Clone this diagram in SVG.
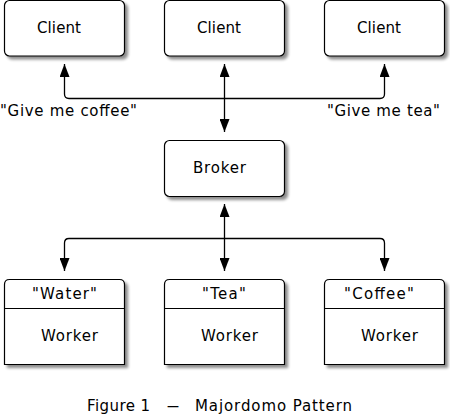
<svg xmlns="http://www.w3.org/2000/svg" width="450" height="414" viewBox="0 0 450 414">
<style>
.box{fill:#fff;stroke:#000;stroke-width:1.2}
.div{stroke:#000;stroke-width:1.2;fill:none}
.t{font-family:"DejaVu Sans","Liberation Sans",sans-serif;font-size:15px;fill:#000}
.c{fill:none;stroke:#000;stroke-width:1.3;marker-start:url(#ah);marker-end:url(#ah)}
</style>
<defs>
<filter id="sh" x="-10%" y="-10%" width="130%" height="140%">
<feGaussianBlur in="SourceAlpha" stdDeviation="1.5"/>
<feOffset dx="3" dy="3" result="b"/>
<feComponentTransfer><feFuncA type="linear" slope="0.45"/></feComponentTransfer>
<feMerge><feMergeNode/><feMergeNode in="SourceGraphic"/></feMerge>
</filter>
<marker id="ah" viewBox="0 0 13 10" refX="13" refY="5" markerWidth="13" markerHeight="10" markerUnits="userSpaceOnUse" orient="auto-start-reverse">
<path d="M0,0 L13,5 L0,10 z" fill="#000"/>
</marker>
</defs>
<rect width="450" height="414" fill="#fff"/>
<g id="client1"><rect class="box" filter="url(#sh)" x="4.5" y="0.5" width="120" height="55.5" rx="5"/><text class="t" x="37" y="33" textLength="44" lengthAdjust="spacing">Client</text></g>
<g id="client2"><rect class="box" filter="url(#sh)" x="164.5" y="0.5" width="120" height="55.5" rx="5"/><text class="t" x="197" y="33" textLength="44" lengthAdjust="spacing">Client</text></g>
<g id="client3"><rect class="box" filter="url(#sh)" x="324.5" y="0.5" width="120" height="55.5" rx="5"/><text class="t" x="357" y="33" textLength="44" lengthAdjust="spacing">Client</text></g>
<g id="broker"><rect class="box" filter="url(#sh)" x="164.5" y="140.5" width="120" height="56" rx="5"/><text class="t" x="193" y="173" textLength="53" lengthAdjust="spacing">Broker</text></g>
<g id="worker1"><path class="box" filter="url(#sh)" d="M4.5,364.5 V284.5 Q4.5,279.5 9.5,279.5 H119.5 Q124.5,279.5 124.5,284.5 V364.5 Z"/><path class="div" d="M4.5,308.5 H124.5"/><text class="t" x="32" y="299" textLength="65" lengthAdjust="spacing">"Water"</text><text class="t" x="41" y="341" textLength="57" lengthAdjust="spacing">Worker</text></g>
<g id="worker2"><path class="box" filter="url(#sh)" d="M164.5,364.5 V284.5 Q164.5,279.5 169.5,279.5 H279.5 Q284.5,279.5 284.5,284.5 V364.5 Z"/><path class="div" d="M164.5,308.5 H284.5"/><text class="t" x="202" y="299" textLength="44" lengthAdjust="spacing">"Tea"</text><text class="t" x="201" y="341" textLength="57" lengthAdjust="spacing">Worker</text></g>
<g id="worker3"><path class="box" filter="url(#sh)" d="M324.5,364.5 V284.5 Q324.5,279.5 329.5,279.5 H439.5 Q444.5,279.5 444.5,284.5 V364.5 Z"/><path class="div" d="M324.5,308.5 H444.5"/><text class="t" x="344" y="299" textLength="70" lengthAdjust="spacing">"Coffee"</text><text class="t" x="361" y="341" textLength="57" lengthAdjust="spacing">Worker</text></g>
<g id="connectors">
<path class="c" d="M64.5,64 V94 Q64.5,98.5 69,98.5 H380 Q384.5,98.5 384.5,94 V64"/>
<path class="c" d="M224.5,64 V132"/>
<path class="c" d="M224.5,204 V271"/>
<path class="c" d="M64.5,271 V243 Q64.5,238.5 69,238.5 H380 Q384.5,238.5 384.5,243 V271"/>
</g>
<g id="labels">
<text class="t" x="0" y="116" textLength="137" lengthAdjust="spacing">"Give me coffee"</text>
<text class="t" x="327" y="116" textLength="113" lengthAdjust="spacing">"Give me tea"</text>
</g>
<g id="caption">
<text class="t" x="87" y="411" textLength="63" lengthAdjust="spacing">Figure 1</text>
<text class="t" x="167" y="411" textLength="12" lengthAdjust="spacingAndGlyphs">—</text>
<text class="t" x="195" y="411" textLength="157" lengthAdjust="spacing">Majordomo Pattern</text>
</g>
</svg>
